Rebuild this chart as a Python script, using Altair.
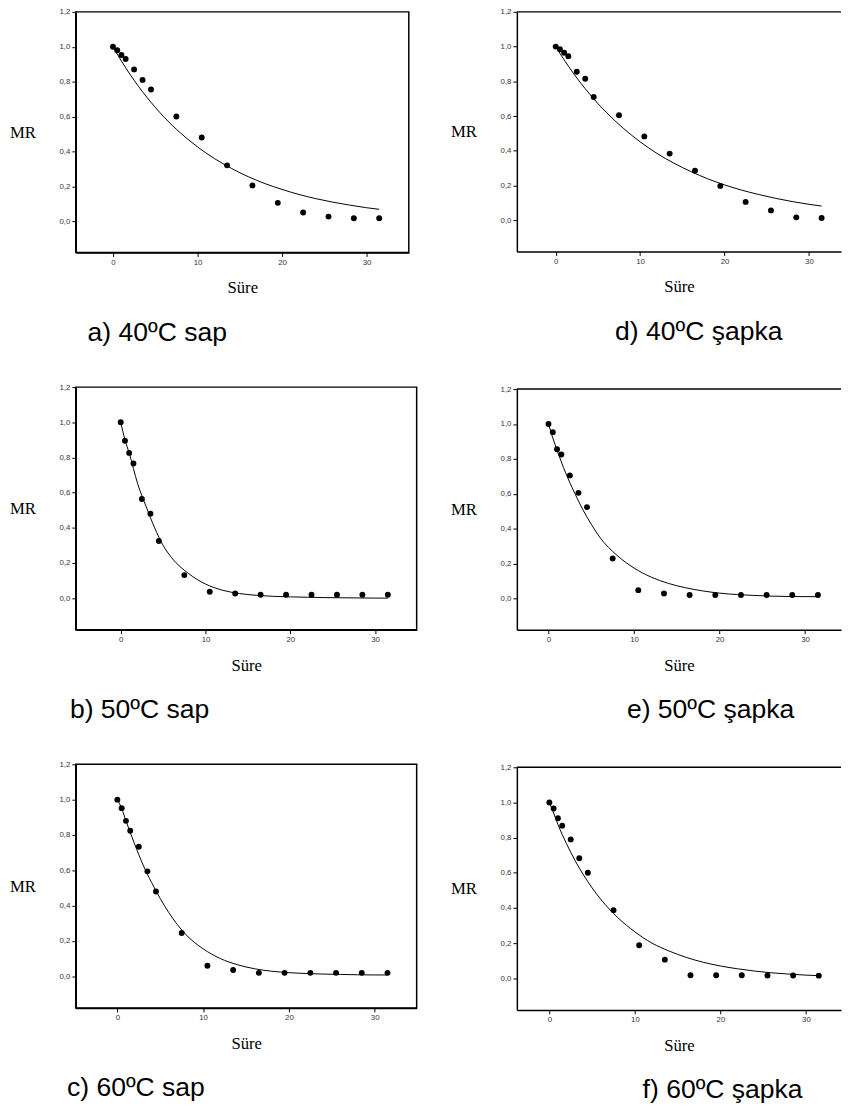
import altair as alt
import pandas as pd

# Drying time (Süre) of the measured points
t_obs = [0, 0.5, 1, 1.5, 2.5, 3.5, 4.5, 7.5, 10.5, 13.5, 16.5, 19.5, 22.5, 25.5, 28.5, 31.5]

mr_a = [1.0, 0.98, 0.953, 0.93, 0.87, 0.81, 0.755, 0.60, 0.48, 0.32, 0.205, 0.105, 0.05, 0.026, 0.017, 0.017]
mr_d = [1.0, 0.985, 0.965, 0.945, 0.855, 0.815, 0.71, 0.605, 0.483, 0.384, 0.285, 0.198, 0.106, 0.057, 0.017, 0.013]
mr_b = [1.0, 0.895, 0.826, 0.766, 0.564, 0.48, 0.325, 0.131, 0.036, 0.026, 0.019, 0.019, 0.019, 0.019, 0.019, 0.019]
mr_e = [1.0, 0.953, 0.855, 0.825, 0.705, 0.605, 0.523, 0.229, 0.047, 0.028, 0.019, 0.019, 0.019, 0.019, 0.019, 0.019]
mr_c = [1.0, 0.952, 0.88, 0.824, 0.733, 0.594, 0.48, 0.245, 0.059, 0.035, 0.019, 0.019, 0.019, 0.019, 0.019, 0.019]
mr_f = [1.0, 0.966, 0.91, 0.868, 0.79, 0.683, 0.60, 0.387, 0.188, 0.106, 0.017, 0.017, 0.017, 0.016, 0.016, 0.015]

# Fitted model curves
t_fit = [0, 0.5, 1, 2, 3, 4, 5, 6, 8, 10, 12, 14, 16, 18, 20, 22, 24, 26, 28, 30, 31.5]
fit_a = [1.0, 0.958, 0.918, 0.843, 0.774, 0.711, 0.653, 0.599, 0.505, 0.426, 0.359, 0.303, 0.255, 0.215, 0.182, 0.153, 0.129, 0.109, 0.092, 0.077, 0.068]
fit_d = [1.0, 0.961, 0.924, 0.853, 0.788, 0.728, 0.672, 0.621, 0.530, 0.452, 0.385, 0.329, 0.281, 0.239, 0.204, 0.174, 0.149, 0.127, 0.108, 0.092, 0.082]
fit_b = [1.0, 0.90, 0.825, 0.65, 0.52, 0.40, 0.30, 0.23, 0.14, 0.08, 0.045, 0.026, 0.016, 0.01, 0.007, 0.005, 0.003, 0.002, 0.001, 0.0, 0.0]
fit_e = [1.0, 0.92, 0.85, 0.72, 0.61, 0.51, 0.425, 0.35, 0.247, 0.174, 0.122, 0.086, 0.061, 0.043, 0.03, 0.022, 0.017, 0.013, 0.011, 0.01, 0.01]
fit_c = [1.0, 0.95, 0.88, 0.75, 0.63, 0.53, 0.44, 0.36, 0.235, 0.155, 0.10, 0.065, 0.042, 0.028, 0.02, 0.015, 0.012, 0.01, 0.008, 0.007, 0.007]
fit_f = [1.0, 0.94, 0.875, 0.766, 0.67, 0.587, 0.514, 0.45, 0.345, 0.264, 0.20, 0.155, 0.119, 0.091, 0.07, 0.054, 0.041, 0.031, 0.024, 0.018, 0.015]

captions = ["a) 40ºC sap", "b) 50ºC sap", "c) 60ºC sap",
            "d) 40ºC şapka", "e) 50ºC şapka", "f) 60ºC şapka"]
y_ticks = [0.0, 0.2, 0.4, 0.6, 0.8, 1.0, 1.2]
x_ticks = [0, 10, 20, 30]

Y_DOM = [-0.18, 1.2]


def panel(mr, fit, caption, width, height, xdom, right_col, cap_dx):
    pts = pd.DataFrame({"t": t_obs, "mr": mr})
    crv = pd.DataFrame({"t": t_fit, "mr": fit})
    x = alt.X("t:Q", scale=alt.Scale(domain=xdom, nice=False, zero=False),
              axis=alt.Axis(values=x_ticks, title="Süre", titlePadding=14))
    y = alt.Y("mr:Q", scale=alt.Scale(domain=Y_DOM, nice=False, zero=False),
              axis=alt.Axis(values=y_ticks,
                            labelExpr="replace(format(datum.value, '.1f'), '.', ',')",
                            title="MR", titleAngle=0, titleAlign="right",
                            titleBaseline="middle", titlePadding=24))
    line = alt.Chart(crv).mark_line(color="black", strokeWidth=1,
                                    interpolate="monotone").encode(x=x, y=y)
    points = alt.Chart(pts).mark_circle(size=36, color="black", opacity=1).encode(x=x, y=y)
    layers = [line, points]
    if right_col:
        top = alt.Chart(pd.DataFrame({"mr": [1.2]})).mark_rule(
            color="black", strokeWidth=1.5).encode(
            y=y, x=alt.value(0), x2=alt.value(width))
        layers.append(top)
        view = alt.ViewBackground(stroke="transparent")
    else:
        view = alt.ViewBackground(stroke="black", strokeWidth=1.5)
    return alt.layer(*layers).properties(
        width=width, height=height, view=view,
        title=alt.TitleParams(caption, orient="bottom", anchor="start", frame="group",
                              dx=cap_dx, font="Liberation Sans", fontSize=27,
                              fontWeight="normal", color="black", offset=25))


pa = panel(mr_a, fit_a, captions[0], 339, 245, [-4.4, 35.0], False, 12)
pb = panel(mr_b, fit_b, captions[1], 347, 247, [-5.3, 34.9], False, -6)
pc = panel(mr_c, fit_c, captions[2], 347, 248, [-4.85, 34.9], False, -9)
pd_ = panel(mr_d, fit_d, captions[3], 330, 244, [-4.6, 33.8], True, 100)
pe = panel(mr_e, fit_e, captions[4], 330, 245, [-3.7, 34.2], True, 112)
pf = panel(mr_f, fit_f, captions[5], 330, 247, [-3.8, 34.1], True, 128)

left = alt.vconcat(pa, pb, pc, spacing=36)
right = alt.vconcat(pd_, pe, pf, spacing=39)

chart = alt.hconcat(left, right, spacing=32).properties(
    padding={"left": 0, "top": -11, "right": 0, "bottom": 0}
).configure_axis(
    labelFont="Liberation Sans", labelFontSize=8, labelColor="#333",
    tickColor="black", tickSize=4, tickWidth=1,
    domainColor="black", domainWidth=1.5, grid=False, labelPadding=2,
    titleFont="Liberation Serif", titleFontSize=17, titleFontWeight="normal",
    titleColor="black"
).configure_view(stroke="black")

chart.save("out.html", embed_options={"renderer": "svg", "actions": False})
